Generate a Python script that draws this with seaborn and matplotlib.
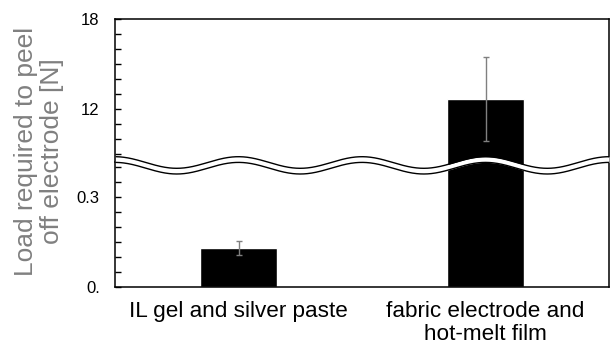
import numpy as np
import pandas as pd
import matplotlib
matplotlib.use("Agg")
import matplotlib.pyplot as plt
import seaborn as sns

categories = ["IL gel and silver paste", "fabric electrode and\nhot-melt film"]
means = [0.13, 12.67]
errors = [0.024, 2.8]
lower_ticks = [0.0, 0.05, 0.1, 0.15, 0.2, 0.25, 0.3, 0.35, 0.4]
lower_labels = ["0.", "", "", "", "", "", "0.3", "", ""]
upper_ticks = [9, 10, 11, 12, 13, 14, 15, 16, 17, 18]
upper_labels = ["", "", "", "12", "", "", "", "", "", "18"]
ylabel = "Load required to peel\noff electrode [N]"

sns.set_theme(style="white")
plt.rcParams["font.family"] = ["Liberation Sans", "DejaVu Sans"]

df = pd.DataFrame({"cat": categories, "val": means})

W, H = 610, 350
fig = plt.figure(figsize=(W / 100, H / 100), dpi=100)
fig.patch.set_facecolor("white")

left_px, right_px = 115, 609
top_px, bot_px, brk_px = 19, 287, 162

def frac_y(py):
    return 1 - py / H

l = left_px / W
w = (right_px - left_px) / W
ax_lo = fig.add_axes([l, frac_y(bot_px), w, (bot_px - brk_px) / H])
ax_hi = fig.add_axes([l, frac_y(brk_px), w, (brk_px - top_px) / H])

lo_top = (bot_px - brk_px) / 300.0
hi_bot = 18 - (brk_px - top_px) / 15.0

for ax in (ax_lo, ax_hi):
    sns.barplot(data=df, x="cat", y="val", color="black", saturation=1,
                width=0.313, errorbar=None, ax=ax, zorder=2)
    ax.errorbar(x=[0, 1], y=means, yerr=errors, fmt="none", ecolor="#808080",
                elinewidth=1.0, capsize=2.5, capthick=1.0, zorder=3)
    ax.set_xlim(-0.5, 1.5)
    ax.set_xlabel("")
    ax.set_ylabel("")
    for s in ax.spines.values():
        s.set_color("black")
        s.set_linewidth(1.1)
    ax.tick_params(axis="y", direction="in", length=4, width=1, color="black",
                   left=True, right=False, labelsize=12, pad=11, labelcolor="black")
    ax.set_facecolor("white")

ax_lo.set_ylim(0, lo_top)
ax_lo.set_yticks(lower_ticks, lower_labels)
ax_lo.spines["top"].set_visible(False)
ax_lo.tick_params(axis="x", length=0, labelsize=16.2, pad=10, labelcolor="black")
for t in ax_lo.get_xticklabels():
    t.set_linespacing(1.12)

ax_hi.set_ylim(hi_bot, 18)
ax_hi.set_yticks(upper_ticks, upper_labels)
ax_hi.spines["bottom"].set_visible(False)
ax_hi.tick_params(axis="x", bottom=False, labelbottom=False)

# wavy break band
ov_top, ov_bot = 140, 190
ov = fig.add_axes([l, frac_y(ov_bot), w, (ov_bot - ov_top) / H], zorder=5)
ov.set_xlim(-0.5, 1.5)
ov.set_ylim(ov_bot, ov_top)
ov.axis("off")
ov.patch.set_alpha(0)
xs = np.linspace(-0.495, 1.5, 800)
upper_line = 162.5 - 5.8 * np.cos(2 * np.pi * (xs - 1) / 0.5)
lower_line = upper_line + 5.7
ov.fill_between(xs, upper_line, lower_line, color="white", lw=0, zorder=1)
ov.plot(xs, upper_line, color="black", lw=1.0, zorder=2)
ov.plot(xs, lower_line, color="black", lw=1.0, zorder=2)

fig.text(39 / W, frac_y(151.5), ylabel, rotation=90, ha="center", va="center",
         fontsize=19, color="#808080", linespacing=1.1)

fig.savefig("out.png", dpi=100, facecolor="white")
